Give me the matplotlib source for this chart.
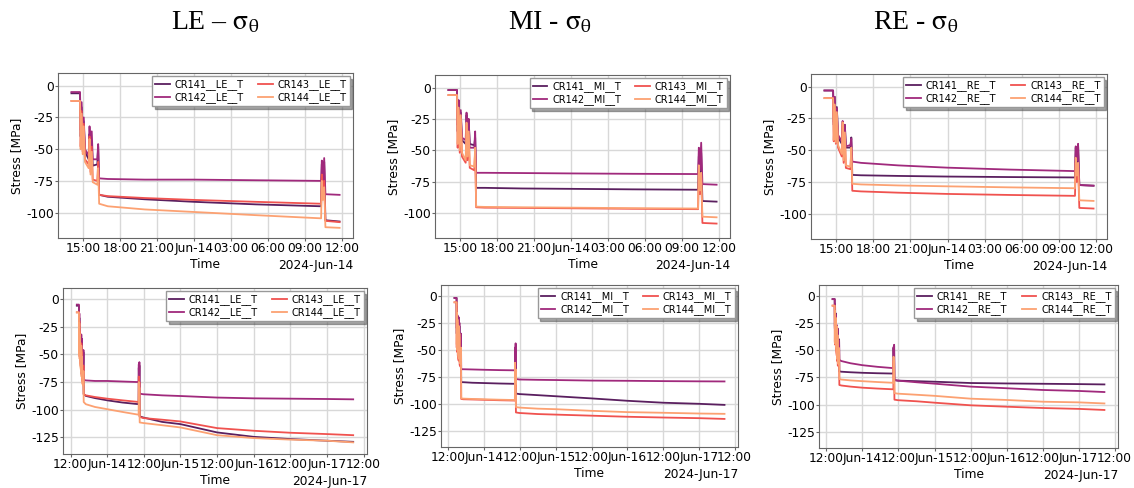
import matplotlib
matplotlib.use('Agg')
import matplotlib.pyplot as plt
import matplotlib.dates as mdates
import numpy as np
import pandas as pd

# Waktu (jam sejak 2024-06-13 00:00)
jam = np.array([14.05, 14.75, 14.8, 14.88, 14.97, 15.05, 15.15, 15.45, 15.52, 15.6,
                15.7, 15.78, 16.15, 16.22, 16.3, 17.0, 20.0, 24.0, 29.0, 34.3,
                34.36, 34.45, 34.55, 34.65, 35.8, 42.0, 48.0, 60.0, 72.0, 84.0,
                96.0, 104.6])
batas_atas = 35.8  # baris atas hanya sampai Jun-14 11:48

# Data tegangan [MPa]
le_cr141 = [-6, -6, -40, -17, -47, -28, -52, -58, -38, -55, -45, -63, -62, -48, -86, -87.5,
            -89.5, -91.5, -93.5, -95, -62, -80, -60, -106, -107, -111, -113, -120.5,
            -124.5, -126.5, -128, -129]
le_cr142 = [-5, -5, -35, -13, -42, -25, -50, -55, -32, -50, -36, -58, -58, -46, -73, -73.5,
            -74, -74, -74.5, -75, -59, -78, -57, -85.5, -86, -87, -87.6, -89, -89.7, -90,
            -90.3, -90.6]
le_cr143 = [-12, -12, -48, -20, -52, -30, -58, -62, -40, -68, -48, -74, -75, -60, -86, -87,
            -88.5, -90, -91.5, -93, -70, -85, -75, -106.5, -107.5, -109, -110.6, -116.6,
            -119, -120.8, -122, -123]
le_cr144 = [-12, -12, -50, -22, -54, -32, -60, -65, -42, -70, -52, -76, -78, -65, -93, -95,
            -97.5, -99.5, -102, -104.5, -75, -90, -80, -111.5, -112, -114, -116, -123,
            -125.6, -127, -128, -129.5]

mi_cr141 = [-2, -2, -35, -12, -40, -20, -42, -45, -22, -40, -28, -45, -46, -40, -80, -80,
            -80.5, -80.8, -81.2, -81.5, -55, -72, -52, -90.5, -91, -92, -93, -95, -97.2,
            -99, -100, -101]
mi_cr142 = [-2, -2, -30, -10, -38, -18, -40, -42, -20, -38, -25, -48, -48, -35, -68, -68,
            -68.2, -68.5, -68.8, -69, -48, -66, -44, -77, -77.5, -77.8, -78, -78.5, -78.7,
            -79, -79.2, -79.3]
mi_cr143 = [-6, -6, -48, -18, -52, -25, -55, -60, -30, -58, -38, -64, -66, -50, -95.5, -95.8,
            -96, -96.3, -96.7, -97, -65, -85, -70, -108, -108.5, -109.5, -110, -111, -112,
            -112.7, -113.3, -114]
mi_cr144 = [-6, -6, -45, -16, -50, -22, -52, -58, -28, -55, -35, -62, -63, -48, -95, -95.2,
            -95.5, -95.8, -96.2, -96.5, -62, -82, -68, -103, -103.5, -104.5, -105, -106.5,
            -107.7, -108.3, -109, -109.3]

re_cr141 = [-3, -3, -30, -8, -35, -16, -40, -45, -28, -45, -30, -48, -48, -40, -69.5, -69.8,
            -70.3, -70.8, -71.2, -71.5, -48, -60, -46, -77.5, -78, -78.5, -79, -80.2, -80.6,
            -80.9, -81.2, -81.5]
re_cr142 = [-3, -3, -28, -8, -33, -17, -38, -43, -27, -42, -30, -47, -46, -41, -59, -60,
            -62, -63.8, -65.3, -66.5, -47, -58, -45, -77.5, -78, -79.5, -80.8, -83.5, -85,
            -86.6, -87.5, -88.5]
re_cr143 = [-9, -9, -43, -15, -45, -22, -48, -55, -30, -60, -38, -64, -65, -50, -82, -82.5,
            -83.5, -84.5, -85.3, -86, -60, -75, -62, -95.5, -96, -97, -98.3, -100.7, -102,
            -103.2, -104, -105]
re_cr144 = [-9, -9, -42, -14, -44, -20, -46, -53, -28, -58, -36, -62, -63, -48, -76.5, -77,
            -77.8, -78.5, -79.3, -80, -56, -70, -60, -89.5, -90, -91, -92, -94.6, -95.8,
            -97.4, -98, -99]

sensor = ['CR141', 'CR142', 'CR143', 'CR144']
lokasi = ['LE', 'MI', 'RE']
judul = ['LE \u2013 ', 'MI - ', 'RE - ']
data = {
    'LE': [le_cr141, le_cr142, le_cr143, le_cr144],
    'MI': [mi_cr141, mi_cr142, mi_cr143, mi_cr144],
    'RE': [re_cr141, re_cr142, re_cr143, re_cr144],
}
warna = ['#5a1f5f', '#a0297c', '#f0524f', '#fca172']

plt.rcParams['axes.unicode_minus'] = False
plt.rcParams['mathtext.fontset'] = 'stix'

W, H = 1134, 488
fig = plt.figure(figsize=(W / 100, H / 100), dpi=100)

# posisi sumbu dalam piksel: kiri, kanan, atas, bawah
kotak_atas = [(58, 353, 73, 238), (435, 730, 75, 238), (811, 1107, 74, 239)]
kotak_bawah = [(63, 367, 288, 454), (441, 738, 285, 447), (819, 1118, 285, 448)]

waktu = pd.Timestamp('2024-06-13') + pd.to_timedelta(jam, unit='h')


def buat_panel(kotak, lok, atas):
    l, r, t, b = kotak
    ax = fig.add_axes([l / W, 1 - b / H, (r - l) / W, (b - t) / H])
    m = jam <= batas_atas if atas else np.ones(len(jam), bool)
    for s, nilai, c in zip(sensor, data[lok], warna):
        ax.plot(waktu[m], np.array(nilai)[m], color=c, lw=1.3,
                label=f'{s}__{lok}__T')
    if atas:
        loc = mdates.HourLocator(byhour=range(0, 24, 3))
        ax.set_ylim(-120, 10)
        ax.set_yticks([0, -25, -50, -75, -100])
    else:
        loc = mdates.HourLocator(byhour=[0, 12])
        ax.set_ylim(-140, 10)
        ax.set_yticks([0, -25, -50, -75, -100, -125])
    ax.xaxis.set_major_locator(loc)
    ax.xaxis.set_major_formatter(mdates.ConciseDateFormatter(loc))
    ax.tick_params(labelsize=8.8, length=2, pad=1, color='#666666')
    ax.xaxis.get_offset_text().set_fontsize(8.8)
    ax.grid(True, color='#d8d8d8', lw=1)
    for sp in ax.spines.values():
        sp.set_color('#666666')
    ax.set_xlabel('Time', fontsize=8.8, labelpad=2)
    ax.set_ylabel('Stress [MPa]', fontsize=8.8, labelpad=2)
    ax.legend(loc='upper right', ncol=2, fontsize=7, shadow=True, framealpha=1,
              borderpad=0.3, labelspacing=0.2, columnspacing=1.5, handlelength=1.5,
              handletextpad=0.5, fancybox=False, edgecolor='#999999',
              borderaxespad=0.35)
    return ax


for i, lok in enumerate(lokasi):
    buat_panel(kotak_atas[i], lok, True)
    buat_panel(kotak_bawah[i], lok, False)

pusat_judul = [215, 550, 916]
for x, jd in zip(pusat_judul, judul):
    fig.text(x / W, 1 - 23 / H, jd + r'$\mathrm{\sigma}_{\mathrm{\theta}}$', ha='center',
             va='center', fontsize=20, family='Liberation Serif')

fig.savefig('out.png', dpi=100, facecolor='white')
